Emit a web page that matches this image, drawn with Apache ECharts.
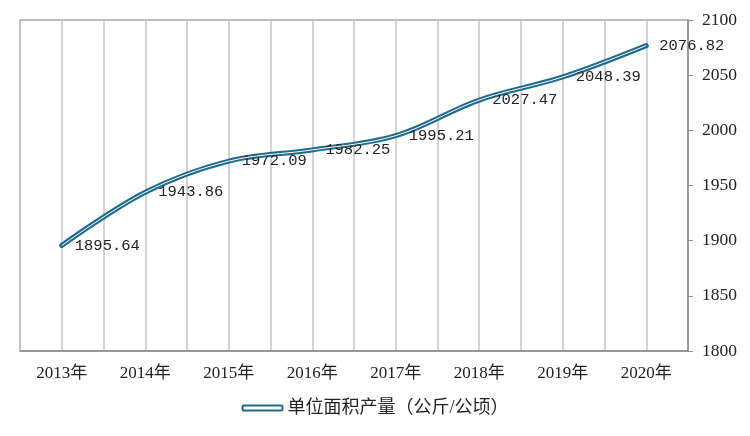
<!DOCTYPE html>
<html>
<head>
<meta charset="utf-8">
<script src="https://cdn.jsdelivr.net/npm/echarts@6/dist/echarts.min.js"></script>
<style>
  html, body { margin: 0; padding: 0; background: #fff; }
  #chart { width: 750px; height: 436px; }
</style>
</head>
<body>
<div id="chart"></div>
<script>
// 연도 / 값
const years = ['2013年', '2014年', '2015年', '2016年', '2017年', '2018年', '2019年', '2020年'];
const yieldValues = [1895.64, 1943.86, 1972.09, 1982.25, 1995.21, 2027.47, 2048.39, 2076.82];
const seriesName = '单位面积产量（公斤/公顷）';
const yTicks = { min: 1800, max: 2100, interval: 50 };

const serifFont = "'Liberation Serif', 'Noto Sans CJK SC', serif";
const monoFont = "'Liberation Mono', 'DejaVu Sans Mono', monospace";
const lineColor = '#1f6a8c';

const chart = echarts.init(document.getElementById('chart'));

// 세로 격자선: 카테고리 경계 + 중앙 (16칸)
const halfSlots = Array(years.length * 2).fill('');

chart.setOption({
  animation: false,
  grid: {
    left: 20, right: 62, top: 20, bottom: 85,
    show: true,
    borderColor: '#a6a6a6',
    borderWidth: 1.5
  },
  legend: {
    bottom: 14,
    left: 'center',
    itemWidth: 40,
    itemHeight: 5,
    itemGap: 4,
    data: [{
      name: seriesName,
      icon: 'roundRect',
      itemStyle: { color: '#ffffff', borderColor: lineColor, borderWidth: 2 }
    }],
    textStyle: { fontFamily: serifFont, fontSize: 18, color: '#222' }
  },
  xAxis: [{
    type: 'category',
    data: years,
    boundaryGap: true,
    axisLine: { lineStyle: { color: '#8c8c8c', width: 1.5 } },
    axisTick: { show: false },
    splitLine: { show: false },
    axisLabel: { fontFamily: serifFont, fontSize: 17, color: '#222', margin: 14 }
  }, {
    type: 'category',
    data: halfSlots,
    boundaryGap: true,
    position: 'bottom',
    axisLine: { show: false },
    axisTick: { show: false },
    axisLabel: { show: false },
    splitLine: { show: true, lineStyle: { color: '#c4c4c4', width: 1.5 } }
  }],
  yAxis: {
    type: 'value',
    position: 'right',
    min: yTicks.min,
    max: yTicks.max,
    interval: yTicks.interval,
    axisLine: { show: true, lineStyle: { color: '#8c8c8c', width: 1.5 } },
    axisTick: { show: true, inside: false, length: 5, lineStyle: { color: '#8c8c8c' } },
    splitLine: { show: false },
    axisLabel: {
      fontFamily: serifFont, fontSize: 17.5, color: '#222', margin: 14,
      formatter: function (v) { return String(v); }
    }
  },
  series: [{
    name: seriesName,
    type: 'line',
    data: yieldValues,
    smooth: 0.35,
    symbol: 'circle',
    symbolSize: 4,
    showSymbol: true,
    lineStyle: { width: 5, color: lineColor, cap: 'round' },
    itemStyle: { color: lineColor },
    label: {
      show: true,
      position: 'right',
      distance: 11,
      fontFamily: monoFont,
      fontSize: 15.5,
      color: '#222',
      formatter: function (p) { return p.value.toFixed(2); }
    },
    z: 3
  }, {
    name: 'inner',
    type: 'line',
    data: yieldValues,
    smooth: 0.35,
    symbol: 'none',
    silent: true,
    lineStyle: { width: 1, color: '#ffffff' },
    z: 4
  }]
});
</script>
</body>
</html>
